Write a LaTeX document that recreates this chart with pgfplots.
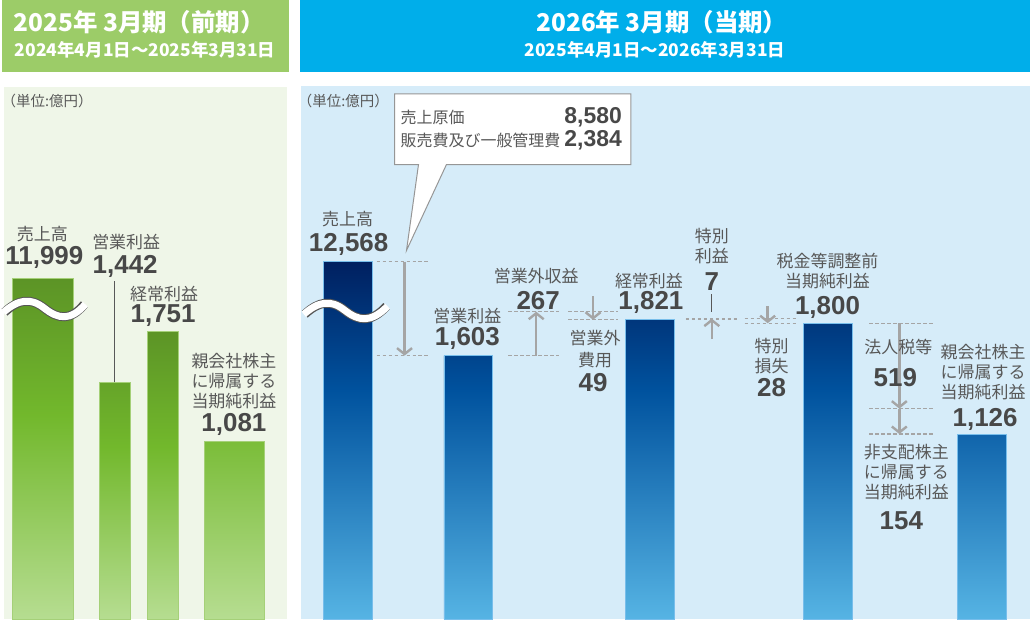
\documentclass[border=0pt]{standalone}
\usepackage{pgfplots}
\pgfplotsset{compat=1.18}
\usepackage{fontspec}
\setmainfont{Liberation Sans}
\newfontfamily\jp{Noto Sans CJK JP}
\usetikzlibrary{arrows.meta}

\definecolor{hdrgreen}{RGB}{156,204,104}
\definecolor{bggreen}{RGB}{239,246,232}
\definecolor{hdrblue}{RGB}{0,174,234}
\definecolor{bgblue}{RGB}{214,236,249}
\definecolor{gtop}{RGB}{92,148,38}
\definecolor{gmid}{RGB}{114,184,44}
\definecolor{gbot}{RGB}{182,221,145}
\definecolor{gedge}{RGB}{165,208,120}
\definecolor{btop}{RGB}{0,32,96}
\definecolor{bmid}{RGB}{0,82,158}
\definecolor{bbot}{RGB}{86,180,228}
\definecolor{bedge}{RGB}{120,190,235}
\definecolor{labgray}{RGB}{88,88,88}
\definecolor{numgray}{RGB}{72,72,72}
\definecolor{guide}{RGB}{165,165,165}
\definecolor{waveline}{RGB}{85,85,85}

% bar gradients: the path's box maps onto 25bp..75bp
\pgfdeclareverticalshading{greenbar}{100bp}{color(0bp)=(gbot); color(25bp)=(gbot); color(55bp)=(gmid); color(75bp)=(gtop); color(100bp)=(gtop)}
\pgfdeclareverticalshading{bluebar}{100bp}{color(0bp)=(bbot); color(25bp)=(bbot); color(57bp)=(bmid); color(75bp)=(btop); color(100bp)=(btop)}

\tikzset{
  lab/.style={text=labgray, font=\jp\fontsize{17}{20}\selectfont, inner sep=0pt},
  num/.style={text=numgray, font=\fontsize{26}{26}\selectfont\bfseries, inner sep=0pt},
  dashln/.style={guide, line width=1.4pt, dash pattern=on 3.5pt off 2.5pt},
  arr/.style={guide, line width=2.4pt, -{Straight Barb[length=6pt,width=15pt]}},
  panel/.style={shift={(0,621)}, yscale=-1},
}

\pgfplotsset{
  panelaxis/.style={
    at={(0,0)}, anchor=south west,
    scale only axis, width=1030pt, height=495pt,
    xmin=0, xmax=1030, ymin=0, ymax=3000,
    axis lines=none, ticks=none, clip=false,
  },
  greenbars/.style={ybar, bar shift=0pt, shade, shading=greenbar, draw=gedge, line width=0.8pt},
  bluebars/.style={ybar, bar shift=0pt, shade, shading=bluebar, draw=bedge, line width=0.8pt},
}

\begin{document}
\begin{tikzpicture}[x=1pt,y=1pt]
% panels and headers
\begin{scope}[panel]
  \useasboundingbox (0,0) rectangle (1030,621);
  \fill[hdrgreen] (0,0) rectangle (287,72);
  \fill[bggreen] (2,87) rectangle (285,621);
  \fill[hdrblue] (298,0) rectangle (1030,72);
  \fill[bgblue] (299,86) rectangle (1030,621);
  \node[text=white, font=\jp\bfseries\fontsize{24.5}{24.5}\selectfont] at (137,22) {2025年 3月期（前期）};
  \node[text=white, font=\jp\bfseries\fontsize{17.5}{17.5}\selectfont] at (143,50) {2024年4月1日～2025年3月31日};
  \node[text=white, font=\jp\bfseries\fontsize{24.5}{24.5}\selectfont] at (661,22) {2026年 3月期（当期）};
  \node[text=white, font=\jp\bfseries\fontsize{17.5}{17.5}\selectfont] at (654,50) {2025年4月1日～2026年3月31日};
  \node[anchor=west, text=labgray, font=\jp\fontsize{14.5}{14.5}\selectfont, inner sep=0pt] at (-1,101) {（単位:億円）};
  \node[anchor=west, text=labgray, font=\jp\fontsize{14.5}{14.5}\selectfont, inner sep=0pt] at (296,101) {（単位:億円）};
\end{scope}

% previous year; the axis is broken above 5,000
\begin{axis}[panelaxis,
  y coord trafo/.code={\pgfmathparse{#1>5000 ? #1-9928 : #1}},
  y coord inv trafo/.code={\pgfmathparse{#1}}]
  \addplot[greenbars, bar width=61] coordinates {(40.5,11999) (232.5,1081)};
  \addplot[greenbars, bar width=31] coordinates {(112.5,1442) (161,1751)};
  \draw[labgray, line width=1.3pt] (axis cs:112.5,1442) -- (axis cs:112.5,2055);
\end{axis}

% current year
\begin{axis}[panelaxis,
  y coord trafo/.code={\pgfmathparse{#1>5000 ? #1-10394 : #1}},
  y coord inv trafo/.code={\pgfmathparse{#1}}]
  \addplot[bluebars, bar width=49] coordinates {(346,12568) (467,1603) (649,1821) (827,1800) (982,1126)};
  % net sales -> operating profit
  \draw[dashln] (axis cs:375,12568) -- (axis cs:428,12568);
  \draw[dashln] (axis cs:375,1603) -- (axis cs:428,1603);
  \draw[arr] (axis cs:403,12568) -- (axis cs:403,1603);
  % non-operating income / expenses
  \draw[dashln] (axis cs:507,1603) -- (axis cs:558,1603);
  \draw[dashln] (axis cs:507,1870) -- (axis cs:558,1870);
  \draw[arr] (axis cs:535,1603) -- (axis cs:535,1870);
  \draw[dashln] (axis cs:567,1870) -- (axis cs:617,1870);
  \draw[dashln] (axis cs:567,1821) -- (axis cs:617,1821);
  \draw[arr] (axis cs:592,1964) -- (axis cs:592,1821);
  % extraordinary income / losses
  \draw[dashln] (axis cs:685,1821) -- (axis cs:737,1821);
  \draw[dashln] (axis cs:685,1828) -- (axis cs:737,1828);
  \draw[arr] (axis cs:711,1703) -- (axis cs:711,1828);
  \draw[dashln] (axis cs:744,1828) -- (axis cs:795,1828);
  \draw[dashln] (axis cs:744,1800) -- (axis cs:795,1800);
  \draw[arr] (axis cs:767,1903) -- (axis cs:767,1800);
  % income taxes and non-controlling interests
  \draw[dashln] (axis cs:869,1800) -- (axis cs:933,1800);
  \draw[dashln] (axis cs:869,1281) -- (axis cs:933,1281);
  \draw[dashln] (axis cs:869,1127) -- (axis cs:933,1127);
  \draw[arr] (axis cs:899,1800) -- (axis cs:899,1281);
  \draw[arr] (axis cs:899,1281) -- (axis cs:899,1127);
\end{axis}

\begin{scope}[panel]
  % break marks on the sales bars
  \draw[waveline, line width=9pt] (2,313) .. controls (16,300) and (28,298) .. (42,309) .. controls (56,320) and (68,322) .. (82,305);
  \draw[white, line width=7pt] (1,313) .. controls (16,300) and (28,298) .. (42,309) .. controls (56,320) and (68,322) .. (83,305);
  \draw[waveline, line width=9pt] (303,315) .. controls (317,302) and (329,300) .. (343,311) .. controls (357,322) and (369,324) .. (385,307);
  \draw[white, line width=7pt] (302,315) .. controls (317,302) and (329,300) .. (343,311) .. controls (357,322) and (369,324) .. (386,307);

  % cost breakdown callout
  \draw[fill=white, draw={rgb,255:red,150;green,150;blue,150}, line width=1pt]
    (393,94) -- (630,94) -- (630,165) -- (445,165) -- (405,251) -- (417,165) -- (393,165) -- cycle;
  \node[lab, anchor=west, font=\jp\fontsize{16}{16}\selectfont] at (399,118) {売上原価};
  \node[lab, anchor=west, font=\jp\fontsize{16}{16}\selectfont] at (399,141) {販売費及び一般管理費};
  \node[num, anchor=east, font=\fontsize{23}{23}\selectfont\bfseries] at (621,118) {8,580};
  \node[num, anchor=east, font=\fontsize{23}{23}\selectfont\bfseries] at (621,141) {2,384};

  % previous-year labels
  \node[lab] at (40,235) {売上高};
  \node[num] at (42,258) {11,999};
  \node[lab] at (124,243) {営業利益};
  \node[num] at (123,267) {1,442};
  \node[lab] at (162,295) {経常利益};
  \node[num] at (161,316) {1,751};
  \node[lab] at (232,362) {親会社株主};
  \node[lab] at (232,382) {に帰属する};
  \node[lab] at (232,402) {当期純利益};
  \node[num] at (232,425) {1,081};

  % current-year labels
  \node[lab] at (346,220) {売上高};
  \node[num] at (347,245) {12,568};
  \node[lab] at (466,317) {営業利益};
  \node[num] at (466,339) {1,603};
  \node[lab] at (535,277) {営業外収益};
  \node[num] at (537,301) {267};
  \node[lab] at (594,339) {営業外};
  \node[lab] at (594,361) {費用};
  \node[num] at (592,384) {49};
  \node[lab] at (648,282) {経常利益};
  \node[num] at (650,303) {1,821};
  \node[lab] at (711,237) {特別};
  \node[lab] at (711,257) {利益};
  \node[num] at (711,282) {7};
  \draw[labgray, line width=1.1pt] (711,295) -- (711,313);
  \node[lab] at (771,347) {特別};
  \node[lab] at (771,367) {損失};
  \node[num] at (771,389) {28};
  \node[lab] at (827,262) {税金等調整前};
  \node[lab] at (827,282) {当期純利益};
  \node[num] at (827,308) {1,800};
  \node[lab] at (898,348) {法人税等};
  \node[num] at (895,378) {519};
  \node[lab] at (983,353) {親会社株主};
  \node[lab] at (983,373) {に帰属する};
  \node[lab] at (983,393) {当期純利益};
  \node[num] at (985,420) {1,126};
  \node[lab] at (906,453) {非支配株主};
  \node[lab] at (906,473) {に帰属する};
  \node[lab] at (906,493) {当期純利益};
  \node[num] at (901,522) {154};
\end{scope}
\end{tikzpicture}
\end{document}
